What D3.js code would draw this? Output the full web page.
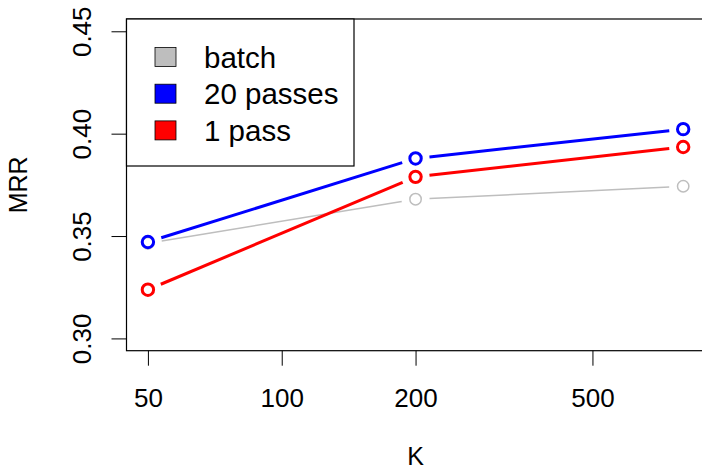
<!DOCTYPE html>
<html>
<head>
<meta charset="utf-8">
<script src="https://cdn.jsdelivr.net/npm/d3@7"></script>
<style>
  body { margin: 0; background: #fff; }
  text { font-family: "Liberation Sans", Arial, sans-serif; fill: #000; }
</style>
</head>
<body>
<div id="container"></div>
<script>
/* DATA */
const kValues = [50, 200, 800];
const batch = [0.3465, 0.368, 0.3743];
const passes20 = [0.3471, 0.3879, 0.4022];
const pass1 = [0.3238, 0.3789, 0.3935];
const seriesNames = ["batch", "20 passes", "1 pass"];
const xTicks = [50, 100, 200, 500];
const yTicks = [0.30, 0.35, 0.40, 0.45];

/* CONSTANTS */
const width = 702, height = 469;
const plot = { left: 126.5, right: 704.6, top: 19, bottom: 350.7 };
const colors = ["#BEBEBE", "#0000FF", "#FF0000"];
const lineW = [1.5, 3, 3];
const gap = 14; // R type="b" gap between segment and point

const series = [batch, passes20, pass1].map((vals, i) => ({
  name: seriesNames[i],
  color: colors[i],
  lw: lineW[i],
  points: kValues.map((k, j) => ({ k, v: vals[j] }))
}));

// R style 4% axis expansion
const lx = [Math.log10(50), Math.log10(800)];
const px = (lx[1] - lx[0]) * 0.04;
const xScale = d3.scaleLog()
  .domain([Math.pow(10, lx[0] - px), Math.pow(10, lx[1] + px)])
  .range([plot.left, plot.right]);

const yScale = d3.scaleLinear()
  .domain([0.30 - 0.006, 0.45 + 0.006])
  .range([plot.bottom, plot.top]);

const svg = d3.select("#container")
  .append("svg")
  .attr("width", width)
  .attr("height", height);

// axes
const xAxis = d3.axisBottom(xScale)
  .tickValues(xTicks)
  .tickFormat(d => d)
  .tickSize(15)
  .tickSizeOuter(0);

const xAxisGroup = svg.append("g")
  .attr("transform", `translate(0, ${plot.bottom})`)
  .call(xAxis);
xAxisGroup.select(".domain").remove();
xAxisGroup.selectAll("line").attr("stroke", "#000").attr("stroke-width", 1);
xAxisGroup.selectAll("text")
  .attr("y", 56.5)
  .attr("dy", 0)
  .attr("font-size", 26)
  .attr("font-family", "Liberation Sans, Arial, sans-serif");

const yAxis = d3.axisLeft(yScale)
  .tickValues(yTicks)
  .tickFormat(d3.format(".2f"))
  .tickSize(15)
  .tickSizeOuter(0);

const yAxisGroup = svg.append("g")
  .attr("transform", `translate(${plot.left}, 0)`)
  .call(yAxis);
yAxisGroup.select(".domain").remove();
yAxisGroup.selectAll("line").attr("stroke", "#000").attr("stroke-width", 1);
yAxisGroup.selectAll("text")
  .attr("transform", "rotate(-90)")
  .attr("x", 0)
  .attr("y", -36)
  .attr("dy", 0)
  .attr("text-anchor", "middle")
  .attr("font-size", 26)
  .attr("font-family", "Liberation Sans, Arial, sans-serif");

// axis titles
svg.append("text")
  .attr("x", (plot.left + plot.right) / 2)
  .attr("y", 465)
  .attr("text-anchor", "middle")
  .attr("font-size", 25)
  .text("K");

svg.append("text")
  .attr("transform", `translate(27, ${(plot.top + plot.bottom) / 2}) rotate(-90)`)
  .attr("text-anchor", "middle")
  .attr("font-size", 25)
  .text("MRR");

// series: lines with gaps, then open circles
series.forEach(s => {
  const g = svg.append("g");
  const segs = d3.pairs(s.points).map(([a, b]) => {
    const x1 = xScale(a.k), y1 = yScale(a.v), x2 = xScale(b.k), y2 = yScale(b.v);
    const len = Math.hypot(x2 - x1, y2 - y1);
    const ux = (x2 - x1) / len, uy = (y2 - y1) / len;
    return { x1: x1 + ux * gap, y1: y1 + uy * gap, x2: x2 - ux * gap, y2: y2 - uy * gap };
  });
  g.selectAll("line")
    .data(segs)
    .join("line")
    .attr("x1", d => d.x1).attr("y1", d => d.y1)
    .attr("x2", d => d.x2).attr("y2", d => d.y2)
    .attr("stroke", s.color)
    .attr("stroke-width", s.lw);
  g.selectAll("circle")
    .data(s.points)
    .join("circle")
    .attr("cx", d => xScale(d.k))
    .attr("cy", d => yScale(d.v))
    .attr("r", 5.7)
    .attr("fill", "none")
    .attr("stroke", s.color)
    .attr("stroke-width", s.lw);
});

// plot box
svg.append("rect")
  .attr("x", plot.left)
  .attr("y", plot.top)
  .attr("width", plot.right - plot.left)
  .attr("height", plot.bottom - plot.top)
  .attr("fill", "none")
  .attr("stroke", "#000")
  .attr("stroke-width", 1.2);

// legend
const legend = svg.append("g");
legend.append("rect")
  .attr("x", plot.left)
  .attr("y", plot.top)
  .attr("width", 354 - plot.left)
  .attr("height", 166 - plot.top)
  .attr("fill", "#fff")
  .attr("stroke", "#000")
  .attr("stroke-width", 1.2);

const rows = legend.selectAll("g.row")
  .data(series)
  .join("g")
  .attr("class", "row")
  .attr("transform", (d, i) => `translate(0, ${57 + i * 36.7})`);

rows.append("rect")
  .attr("x", 155)
  .attr("y", -9.5)
  .attr("width", 21)
  .attr("height", 19)
  .attr("fill", d => d.color)
  .attr("stroke", "#000")
  .attr("stroke-width", 0.8);

rows.append("text")
  .attr("x", 204)
  .attr("y", 10.5)
  .attr("font-size", 29.5)
  .text(d => d.name);
</script>
</body>
</html>
